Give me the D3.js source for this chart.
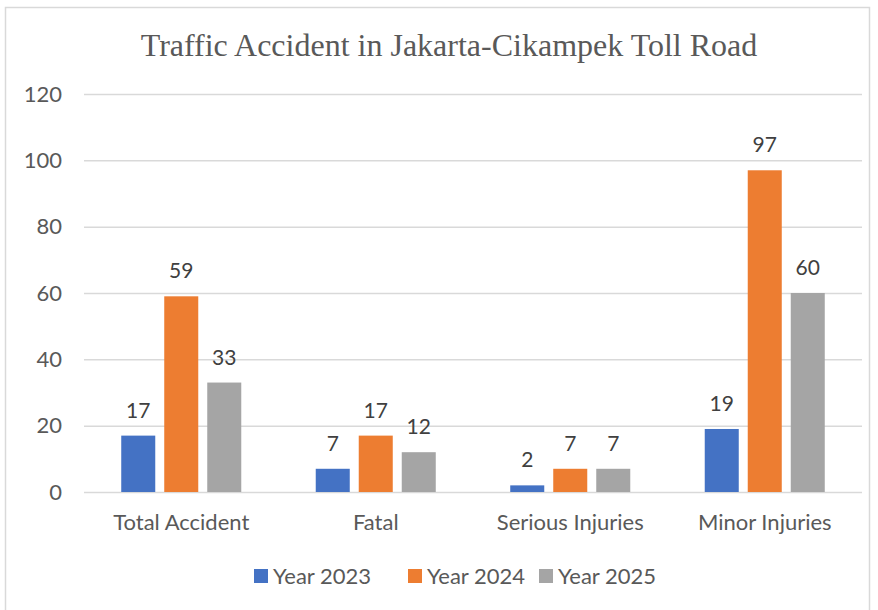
<!DOCTYPE html>
<html>
<head>
<meta charset="utf-8">
<script src="https://cdn.jsdelivr.net/npm/d3@7"></script>
<style>
  body { margin: 0; background: #fff; }
  text { font-family: Lato, "Open Sans", sans-serif; }
</style>
</head>
<body>
<div id="chart"></div>
<script>
// chart data
var categories = ["Total Accident", "Fatal", "Serious Injuries", "Minor Injuries"]
var seriesNames = ["Year 2023", "Year 2024", "Year 2025"]
var year2023 = [17, 7, 2, 19]
var year2024 = [59, 17, 7, 97]
var year2025 = [33, 12, 7, 60]
var yTicks = [0, 20, 40, 60, 80, 100, 120]
var colors = ["#4472C4", "#ED7D31", "#A5A5A5"]

var width = 878, height = 610
var plot = {left: 84, right: 862, top: 94, bottom: 492}

var svg = d3.select("#chart")
  .append("svg")
    .attr("width", width)
    .attr("height", height)

// outer frame
svg.append("rect")
  .attr("x", 5.5).attr("y", 7.5)
  .attr("width", 864).attr("height", 620)
  .attr("fill", "#fff")
  .attr("stroke", "#d9d9d9")
  .attr("stroke-width", 1.5)

// title
svg.append("text")
  .attr("x", 449).attr("y", 56)
  .attr("text-anchor", "middle")
  .style("font-family", "'Liberation Serif', 'DejaVu Serif', serif")
  .style("font-size", "32px")
  .attr("fill", "#595959")
  .text("Traffic Accident in Jakarta-Cikampek Toll Road")

var x0 = d3.scaleBand()
    .domain(categories)
    .range([plot.left, plot.right])

var x1 = d3.scaleBand()
    .domain(seriesNames)
    .range([0, x0.bandwidth()])
    .paddingInner(0.209)
    .paddingOuter(0.866)

var y = d3.scaleLinear()
    .domain([0, 120])
    .range([plot.bottom, plot.top])

// gridlines + y labels
var yAxis = svg.append("g")
  .attr("transform", "translate(" + plot.left + ",0)")
  .call(d3.axisLeft(y).tickValues(yTicks).tickSize(-(plot.right - plot.left)).tickPadding(22))
yAxis.select(".domain").remove()
yAxis.selectAll(".tick line").attr("stroke", "#d9d9d9").attr("stroke-width", 1.5)
yAxis.selectAll(".tick text")
  .attr("fill", "#595959")
  .style("font-family", "Lato, sans-serif")
  .style("font-size", "22px")

// build table for bars
var seriesValues = [year2023, year2024, year2025]
var rows = categories.map(function(c, i) {
  return {cat: c, vals: seriesNames.map(function(s, j) { return {s: s, j: j, v: seriesValues[j][i]} })}
})

var groups = svg.append("g")
  .selectAll("g")
  .data(rows)
  .enter()
  .append("g")
    .attr("transform", function(d) { return "translate(" + x0(d.cat) + ",0)" })

groups.selectAll("rect")
  .data(function(d) { return d.vals })
  .enter()
  .append("rect")
    .attr("x", function(d) { return x1(d.s) })
    .attr("y", function(d) { return y(d.v) })
    .attr("width", x1.bandwidth())
    .attr("height", function(d) { return y(0) - y(d.v) })
    .attr("fill", function(d) { return colors[d.j] })

// data labels
groups.selectAll("text.lbl")
  .data(function(d) { return d.vals })
  .enter()
  .append("text")
    .attr("class", "lbl")
    .attr("x", function(d) { return x1(d.s) + x1.bandwidth() / 2 })
    .attr("y", function(d) { return y(d.v) - 18 })
    .attr("text-anchor", "middle")
    .attr("fill", "#404040")
    .style("font-size", "21px")
    .text(function(d) { return d.v })

// category labels
svg.append("g")
  .selectAll("text")
  .data(categories)
  .enter()
  .append("text")
    .attr("x", function(d) { return x0(d) + x0.bandwidth() / 2 })
    .attr("y", 530)
    .attr("text-anchor", "middle")
    .attr("fill", "#595959")
    .style("font-size", "22px")
    .text(function(d) { return d })

// legend
var legendX = [254, 408, 539]
var legend = svg.append("g")
  .selectAll("g")
  .data(seriesNames)
  .enter()
  .append("g")
    .attr("transform", function(d, i) { return "translate(" + legendX[i] + ",569)" })
legend.append("rect")
  .attr("width", 14).attr("height", 14)
  .attr("fill", function(d, i) { return colors[i] })
legend.append("text")
  .attr("x", 19).attr("y", 15)
  .attr("fill", "#595959")
  .style("font-size", "22px")
  .text(function(d) { return d })
</script>
</body>
</html>
